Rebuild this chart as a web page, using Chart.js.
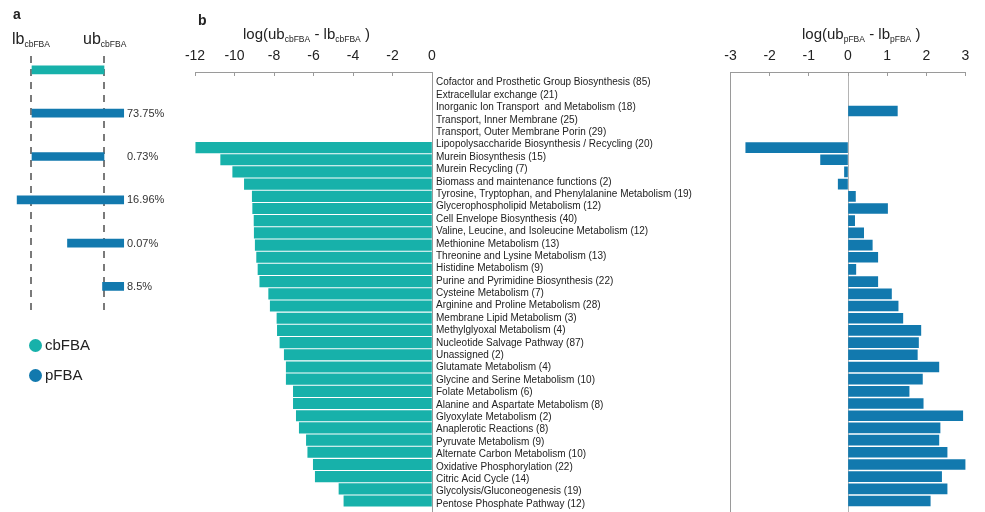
<!DOCTYPE html>
<html>
<head>
<meta charset="utf-8">
<script src="https://cdn.jsdelivr.net/npm/chart.js@4.4.1/dist/chart.umd.min.js"></script>
<style>
  html, body { margin: 0; padding: 0; background: #fff; }
  #wrap { position: relative; width: 985px; height: 512px; overflow: hidden;
          font-family: "Liberation Sans", Arial, sans-serif; color: #222; }
  #wrap canvas { position: absolute; left: 0; top: 0; }
  .t { position: absolute; white-space: nowrap; line-height: 1; }
  .t sub { font-size: 8.5px; vertical-align: -3px; line-height: 0; }
  .dot { position: absolute; width: 13px; height: 13px; border-radius: 50%; }
</style>
</head>
<body>
<div id="wrap">
  <canvas id="panelA" width="985" height="512"></canvas>
  <canvas id="cbChart" width="985" height="512"></canvas>
  <canvas id="pChart" width="985" height="512"></canvas>

  <div class="t" style="left:13px;top:7px;font-size:14px;font-weight:bold;">a</div>
  <div class="t" style="left:12px;top:31px;font-size:16px;">lb<sub>cbFBA</sub></div>
  <div class="t" style="left:83px;top:31px;font-size:16px;">ub<sub>cbFBA</sub></div>
  <div class="dot" style="left:28.5px;top:338.5px;background:#17B1AA;"></div>
  <div class="t" style="left:45px;top:337px;font-size:15px;">cbFBA</div>
  <div class="dot" style="left:28.5px;top:368.5px;background:#1279AE;"></div>
  <div class="t" style="left:45px;top:367px;font-size:15px;">pFBA</div>

  <div class="t" style="left:198px;top:13px;font-size:14px;font-weight:bold;">b</div>
  <div class="t" style="left:243px;top:26px;font-size:15px;">log(ub<sub>cbFBA</sub> - lb<sub>cbFBA</sub> )</div>
  <div class="t" style="left:802px;top:26px;font-size:15px;">log(ub<sub>pFBA</sub> - lb<sub>pFBA</sub> )</div>
</div>

<script>
// Metabolic subsystems (number of reactions in brackets)
const categories = [
  'Cofactor and Prosthetic Group Biosynthesis (85)',
  'Extracellular exchange (21)',
  'Inorganic Ion Transport  and Metabolism (18)',
  'Transport, Inner Membrane (25)',
  'Transport, Outer Membrane Porin (29)',
  'Lipopolysaccharide Biosynthesis / Recycling (20)',
  'Murein Biosynthesis (15)',
  'Murein Recycling (7)',
  'Biomass and maintenance functions (2)',
  'Tyrosine, Tryptophan, and Phenylalanine Metabolism (19)',
  'Glycerophospholipid Metabolism (12)',
  'Cell Envelope Biosynthesis (40)',
  'Valine, Leucine, and Isoleucine Metabolism (12)',
  'Methionine Metabolism (13)',
  'Threonine and Lysine Metabolism (13)',
  'Histidine Metabolism (9)',
  'Purine and Pyrimidine Biosynthesis (22)',
  'Cysteine Metabolism (7)',
  'Arginine and Proline Metabolism (28)',
  'Membrane Lipid Metabolism (3)',
  'Methylglyoxal Metabolism (4)',
  'Nucleotide Salvage Pathway (87)',
  'Unassigned (2)',
  'Glutamate Metabolism (4)',
  'Glycine and Serine Metabolism (10)',
  'Folate Metabolism (6)',
  'Alanine and Aspartate Metabolism (8)',
  'Glyoxylate Metabolism (2)',
  'Anaplerotic Reactions (8)',
  'Pyruvate Metabolism (9)',
  'Alternate Carbon Metabolism (10)',
  'Oxidative Phosphorylation (22)',
  'Citric Acid Cycle (14)',
  'Glycolysis/Gluconeogenesis (19)',
  'Pentose Phosphate Pathway (12)'
];

// log(ub - lb) of the cbFBA flux ranges per subsystem
const cbFBALogRange = [
  null, null, null, null, null,
  -11.96, -10.70, -10.09, -9.50, -9.10,
  -9.08, -9.01, -9.00, -8.95, -8.88,
  -8.81, -8.72, -8.27, -8.19, -7.85,
  -7.83, -7.70, -7.48, -7.38, -7.38,
  -7.02, -7.02, -6.87, -6.72, -6.36,
  -6.29, -6.01, -5.91, -4.71, -4.46
];

// log(ub - lb) of the pFBA flux ranges per subsystem
const pFBALogRange = [
  null, null, 1.26, null, null,
  -2.61, -0.70, -0.09, -0.25, 0.19,
  1.01, 0.17, 0.40, 0.62, 0.76,
  0.20, 0.76, 1.11, 1.28, 1.40,
  1.86, 1.80, 1.77, 2.32, 1.90,
  1.56, 1.92, 2.93, 2.35, 2.32,
  2.53, 3.00, 2.39, 2.53, 2.10
];

// x-axis tick ranges
const cbTicks = { min: -12, max: 0, step: 2 };
const pTicks  = { min: -3,  max: 3, step: 1 };

// Schematic of pFBA ranges relative to the cbFBA range (lb = 0, ub = 1)
const rangeLower = [0, 0, 0, -0.19, 0.50, 0.98];
const rangeUpper = [1, 1.27, 1, 1.27, 1.27, 1.27];
const rangeShare = ['', '73.75%', '0.73%', '16.96%', '0.07%', '8.5%'];

const TEAL = '#17B1AA';
const BLUE = '#1279AE';
const AXIS = '#9a9a9a';
const FONT = '"Liberation Sans", Arial, sans-serif';

Chart.defaults.font.family = FONT;
Chart.defaults.color = '#222';

const rowIdx = categories.map((_, i) => i);
const toPoints = arr => arr.map((v, i) => ({ x: v, y: i }));

const baseOpts = {
  responsive: false,
  animation: false,
  devicePixelRatio: 1,
  events: [],
  plugins: { legend: { display: false }, tooltip: { enabled: false } }
};

// keep vertical scales from reserving room for half a label at either end
const noEndPadding = s => { s.paddingTop = 0; s.paddingBottom = 0; };

const topAxis = (t) => ({
  type: 'linear',
  position: 'top',
  offset: false,
  min: t.min, max: t.max,
  ticks: { stepSize: t.step, padding: 11, font: { size: 14 }, color: '#222', maxRotation: 0 },
  grid: { drawOnChartArea: false, tickLength: -4, tickColor: AXIS },
  border: { color: AXIS },
  afterFit: s => { s.height = 72; }
});

// bar row positions (shared by both panels)
const barRows = { min: -1.2, max: 34.9 };

// ---- cbFBA chart ----
new Chart(document.getElementById('cbChart'), {
  type: 'bar',
  data: { datasets: [{ data: toPoints(cbFBALogRange), backgroundColor: TEAL, barThickness: 10.5, borderWidth: 0 }] },
  options: Object.assign({}, baseOpts, {
    indexAxis: 'y',
    layout: { padding: { left: 195, right: 553, top: 0, bottom: 0 } },
    scales: {
      x: topAxis(cbTicks),
      y: {
        type: 'linear', position: 'right', reverse: true, offset: false,
        min: barRows.min, max: barRows.max,
        ticks: { display: false },
        grid: { display: false, offset: false },
        border: { color: AXIS },
        afterFit: s => { s.width = 0; noEndPadding(s); }
      }
    }
  })
});

// ---- pFBA chart, carrying the subsystem names ----
new Chart(document.getElementById('pChart'), {
  type: 'bar',
  data: { datasets: [{ data: toPoints(pFBALogRange), backgroundColor: BLUE, barThickness: 10, borderWidth: 0, yAxisID: 'y' }] },
  options: Object.assign({}, baseOpts, {
    indexAxis: 'y',
    layout: { padding: { left: 436, right: 19.5, top: 0, bottom: 0 } },
    scales: {
      x: Object.assign(topAxis(pTicks), {
        grid: {
          drawOnChartArea: true, tickLength: -4, tickColor: AXIS,
          color: c => (c.tick && c.tick.value === 0) ? '#b4b4b4' : 'rgba(0,0,0,0)'
        }
      }),
      y: {
        type: 'linear', display: false, reverse: true, offset: false,
        grid: { offset: false },
        min: barRows.min, max: barRows.max
      },
      yl: {
        type: 'linear', axis: 'y', position: 'left', reverse: true, offset: false,
        min: -0.864, max: 34.65,
        afterBuildTicks: s => { s.ticks = rowIdx.map(v => ({ value: v })); },
        ticks: {
          autoSkip: false, crossAlign: 'far', padding: 0,
          font: { size: 10 }, color: '#222',
          callback: v => categories[v]
        },
        grid: { display: false, offset: false },
        border: { color: AXIS },
        afterFit: s => { s.width = 294.5; noEndPadding(s); }
      }
    }
  })
});

// ---- schematic panel a ----
const shareLabelAt = 1.315;
const shareLabels = {
  id: 'shareLabels',
  afterDatasetsDraw(chart) {
    const { ctx, scales: { x, y } } = chart;
    ctx.save();
    ctx.font = '11px ' + FONT;
    ctx.fillStyle = '#333';
    ctx.textAlign = 'left';
    ctx.textBaseline = 'middle';
    rangeShare.forEach((s, i) => {
      if (s) ctx.fillText(s, x.getPixelForValue(shareLabelAt), y.getPixelForValue(i) + 0.5);
    });
    ctx.restore();
  }
};

new Chart(document.getElementById('panelA'), {
  type: 'bar',
  data: {
    datasets: [{
      data: rangeLower.map((lo, i) => ({ x: [lo, rangeUpper[i]], y: i })),
      backgroundColor: rangeLower.map((_, i) => i === 0 ? TEAL : BLUE),
      barThickness: 8, borderWidth: 0
    }]
  },
  options: Object.assign({}, baseOpts, {
    indexAxis: 'y',
    layout: { padding: { left: 1.8, right: 844.5, top: 56, bottom: 200 } },
    scales: {
      x: {
        type: 'linear', position: 'bottom', min: -0.4, max: 1.5, offset: false,
        afterBuildTicks: s => { s.ticks = [{ value: 0 }, { value: 1 }]; },
        ticks: { display: false },
        grid: { color: '#7a7a7a', lineWidth: 2, drawTicks: false },
        border: { display: false, dash: [7, 6] },
        afterFit: s => { s.height = 0; }
      },
      y: {
        type: 'linear', display: false, reverse: true, offset: false,
        grid: { offset: false },
        min: -0.32, max: 5.59
      }
    }
  }),
  plugins: [shareLabels]
});
</script>
</body>
</html>
